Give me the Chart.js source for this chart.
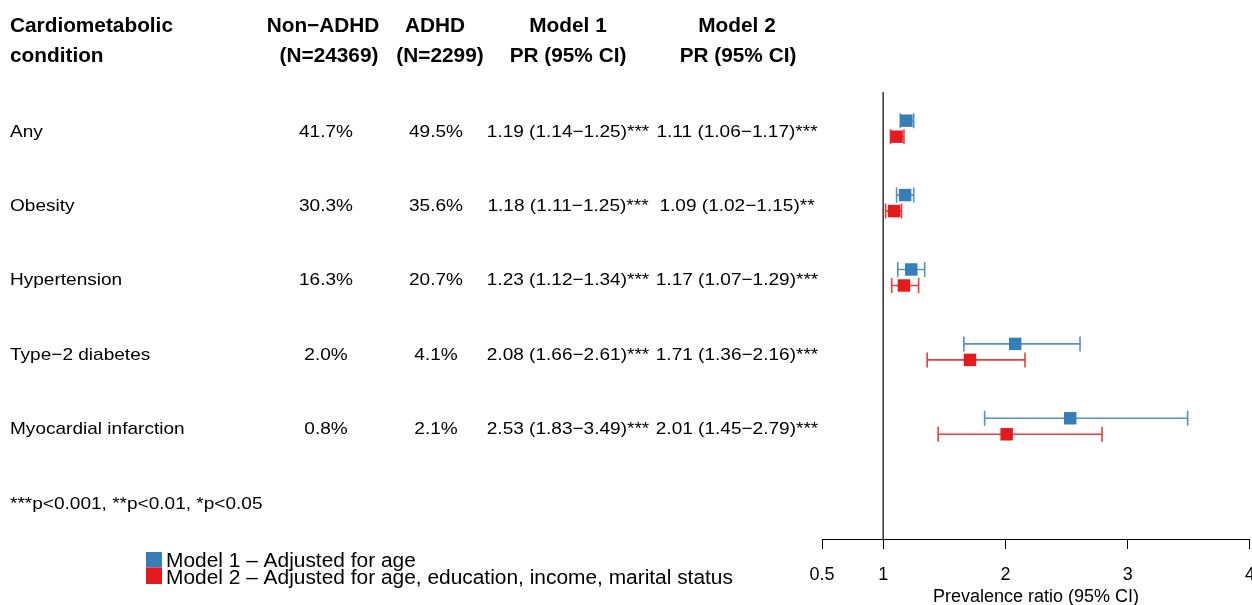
<!DOCTYPE html>
<html>
<head>
<meta charset="utf-8">
<script src="https://cdn.jsdelivr.net/npm/chart.js@4"></script>
<style>
  html, body { margin: 0; padding: 0; overflow: hidden; background: #fff; }
  canvas { display: block; }
</style>
</head>
<body>
<canvas id="forest" width="1270" height="605"></canvas>
<script>
// ---- data ----
const conditions = ['Any', 'Obesity', 'Hypertension', 'Type\u22122 diabetes', 'Myocardial infarction'];
const nonAdhdPct = ['41.7%', '30.3%', '16.3%', '2.0%', '0.8%'];
const adhdPct = ['49.5%', '35.6%', '20.7%', '4.1%', '2.1%'];

const model1PR = [1.19, 1.18, 1.23, 2.08, 2.53];
const model1Lo = [1.14, 1.11, 1.12, 1.66, 1.83];
const model1Hi = [1.25, 1.25, 1.34, 2.61, 3.49];
const model1Sig = ['***', '***', '***', '***', '***'];

const model2PR = [1.11, 1.09, 1.17, 1.71, 2.01];
const model2Lo = [1.06, 1.02, 1.07, 1.36, 1.45];
const model2Hi = [1.17, 1.15, 1.29, 2.16, 2.79];
const model2Sig = ['***', '**', '***', '***', '***'];

const xTicks = [0.5, 1, 2, 3, 4];
const headers = [
  ['Cardiometabolic', 'condition'],
  ['Non\u2212ADHD', '(N=24369)'],
  ['ADHD', '(N=2299)'],
  ['Model 1', 'PR (95% CI)'],
  ['Model 2', 'PR (95% CI)']
];
const legendLabels = ['Model 1 \u2013 Adjusted for age', 'Model 2 \u2013 Adjusted for age, education, income, marital status'];
const footnote = '***p<0.001, **p<0.01, *p<0.05';

// ---- styling ----
const FONT = "'Liberation Sans', Arial, Helvetica, sans-serif";
const BLUE = '#377EB8';
const RED = '#E41A1C';
const ROW_OFFSET = 0.1075;      // vertical split of the two models within a row
const Y_MIN = -0.493, Y_MAX = 5.515;

const fmt = v => v.toFixed(2);
const prLabel = (pr, lo, hi, sig) => `${fmt(pr)} (${fmt(lo)}\u2212${fmt(hi)})${sig}`;

const model1Pts = model1PR.map((v, i) => ({ x: v, y: i - ROW_OFFSET }));
const model2Pts = model2PR.map((v, i) => ({ x: v, y: i + ROW_OFFSET }));

// horizontal whiskers with end caps, drawn under the squares
const errorBars = {
  id: 'errorBars',
  beforeDatasetsDraw(chart) {
    const { ctx, scales: { x, y } } = chart;
    const sets = [
      { lo: model1Lo, hi: model1Hi, off: -ROW_OFFSET, color: 'rgba(55,126,184,0.85)' },
      { lo: model2Lo, hi: model2Hi, off: ROW_OFFSET, color: 'rgba(228,26,28,0.85)' }
    ];
    ctx.save();
    ctx.lineWidth = 1.6;
    sets.forEach(s => {
      ctx.strokeStyle = s.color;
      s.lo.forEach((lo, i) => {
        const py = y.getPixelForValue(i + s.off);
        const x0 = x.getPixelForValue(lo);
        const x1 = x.getPixelForValue(s.hi[i]);
        ctx.beginPath();
        ctx.moveTo(x0, py); ctx.lineTo(x1, py);
        ctx.moveTo(x0, py - 7.5); ctx.lineTo(x0, py + 7.5);
        ctx.moveTo(x1, py - 7.5); ctx.lineTo(x1, py + 7.5);
        ctx.stroke();
      });
    });
    ctx.restore();
  }
};

// draws text with an optional horizontal stretch
function txt(ctx, s, x, y, align, font, sx) {
  ctx.save();
  ctx.font = font;
  ctx.textBaseline = 'alphabetic';
  ctx.textAlign = 'left';
  const w = ctx.measureText(s).width * sx;
  let x0 = x;
  if (align === 'center') x0 = x - w / 2;
  else if (align === 'right') x0 = x - w;
  ctx.translate(x0, y);
  ctx.scale(sx, 1);
  ctx.fillText(s, 0, 0);
  ctx.restore();
  return w;
}

// the table on the left, footnote and legend
const tablePanel = {
  id: 'tablePanel',
  afterDraw(chart) {
    const { ctx, scales: { y } } = chart;
    ctx.save();
    ctx.fillStyle = '#000';
    const HB = `bold 20px ${FONT}`;
    const SX_H = 1.04;
    // headers
    txt(ctx, headers[0][0], 10, 32, 'left', HB, SX_H);
    txt(ctx, headers[0][1], 10, 62, 'left', HB, SX_H);
    txt(ctx, headers[1][0], 323, 32, 'center', HB, SX_H);
    txt(ctx, headers[1][1], 329, 62, 'center', HB, SX_H);
    txt(ctx, headers[2][0], 435, 32, 'center', HB, SX_H);
    txt(ctx, headers[2][1], 440, 62, 'center', HB, SX_H);
    txt(ctx, headers[3][0], 568, 32, 'center', HB, SX_H);
    txt(ctx, headers[3][1], 568, 62, 'center', HB, SX_H);
    txt(ctx, headers[4][0], 737, 32, 'center', HB, SX_H);
    txt(ctx, headers[4][1], 738, 62, 'center', HB, SX_H);

    const DF = `17px ${FONT}`;
    const SX_D = 1.12;
    conditions.forEach((c, i) => {
      const base = y.getPixelForValue(i) + 8;
      txt(ctx, c, 10, base, 'left', DF, SX_D);
      txt(ctx, nonAdhdPct[i], 326, base, 'center', DF, SX_D);
      txt(ctx, adhdPct[i], 436, base, 'center', DF, SX_D);
      txt(ctx, prLabel(model1PR[i], model1Lo[i], model1Hi[i], model1Sig[i]), 568, base, 'center', DF, SX_D);
      txt(ctx, prLabel(model2PR[i], model2Lo[i], model2Hi[i], model2Sig[i]), 737, base, 'center', DF, SX_D);
    });

    // footnote
    txt(ctx, footnote, 10, 509, 'left', DF, SX_D);

    // legend
    ctx.fillStyle = BLUE; ctx.fillRect(146, 552, 16, 15.5);
    ctx.fillStyle = RED; ctx.fillRect(146, 567.5, 16, 16.5);
    ctx.fillStyle = '#000';
    const LF = `20px ${FONT}`;
    txt(ctx, legendLabels[0], 166, 567, 'left', LF, 1.045);
    txt(ctx, legendLabels[1], 166, 584, 'left', LF, 1.045);
    ctx.restore();
  }
};

new Chart(document.getElementById('forest'), {
  type: 'scatter',
  data: {
    datasets: [
      {
        type: 'line', label: 'ref', data: [{ x: 1, y: Y_MIN }, { x: 1, y: Y_MAX }],
        borderColor: '#000', borderWidth: 1.2, pointRadius: 0, fill: false, order: 3
      },
      {
        label: legendLabels[0], data: model1Pts, pointStyle: 'rect', pointRadius: 8.8,
        backgroundColor: BLUE, borderColor: BLUE, borderWidth: 0, order: 1
      },
      {
        label: legendLabels[1], data: model2Pts, pointStyle: 'rect', pointRadius: 8.8,
        backgroundColor: RED, borderColor: RED, borderWidth: 0, order: 2
      }
    ]
  },
  options: {
    responsive: false,
    animation: false,
    events: [],
    layout: { padding: { left: 822, top: 92, right: 20, bottom: 0 } },
    plugins: { legend: { display: false }, tooltip: { enabled: false } },
    scales: {
      x: {
        type: 'linear', min: 0.5, max: 4,
        afterBuildTicks: s => { s.ticks = xTicks.map(v => ({ value: v })); },
        afterFit: s => { s.height = 66; },
        ticks: {
          font: { family: FONT, size: 18 }, color: '#000', padding: 15,
          maxRotation: 0, autoSkip: false, callback: v => String(v)
        },
        grid: { drawOnChartArea: false, drawTicks: true, tickLength: 10, color: '#000', tickColor: '#000', lineWidth: 1 },
        border: { display: true, color: '#000', width: 1 },
        title: { display: true, text: 'Prevalence ratio (95% CI)', font: { family: FONT, size: 18 }, color: '#000', padding: { top: 0, bottom: -3 } }
      },
      y: { type: 'linear', reverse: true, min: Y_MIN, max: Y_MAX, display: false }
    }
  },
  plugins: [errorBars, tablePanel]
});
</script>
</body>
</html>
